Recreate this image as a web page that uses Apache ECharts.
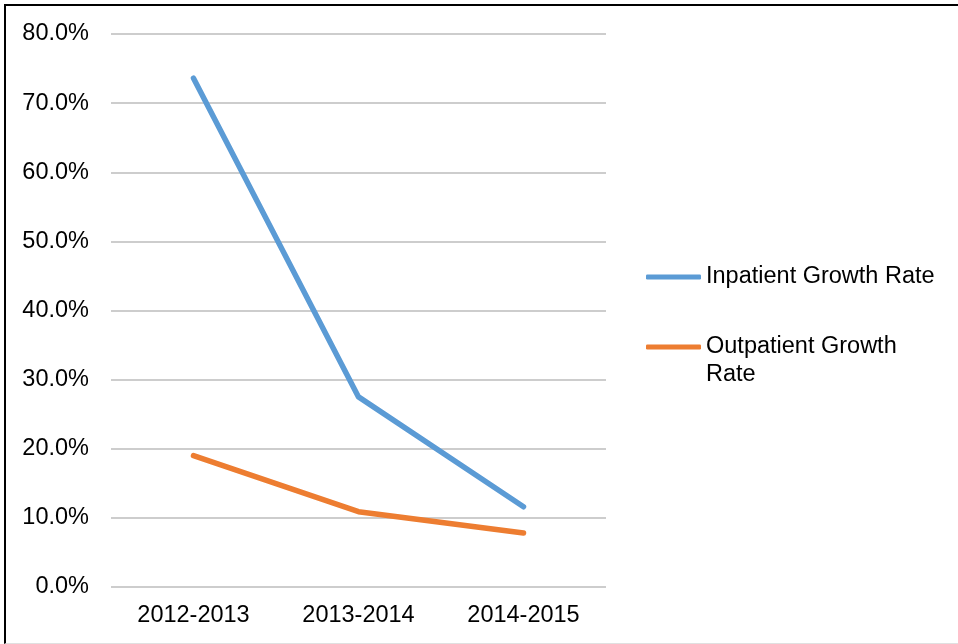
<!DOCTYPE html>
<html>
<head>
<meta charset="utf-8">
<script src="https://cdn.jsdelivr.net/npm/echarts@6/dist/echarts.min.js"></script>
<style>
  html, body { margin: 0; padding: 0; background: #fff; }
  #chart { width: 958px; height: 644px; }
  #frame {
    position: absolute; left: 4px; top: 4px; width: 954px; height: 637px;
    border-top: 2px solid #000; border-left: 2px solid #000;
    border-bottom: 1px solid #e0e0e0; pointer-events: none;
  }
</style>
</head>
<body>
<div id="chart"></div>
<div id="frame"></div>
<script>
// values
const periods = ['2012-2013', '2013-2014', '2014-2015']
const inpatientRate = [0.736, 0.275, 0.116]
const outpatientRate = [0.190, 0.109, 0.078]

const font = 'Liberation Sans, Arial, sans-serif'

var myChart = echarts.init(document.getElementById('chart'))
myChart.setOption({
  animation: false,
  grid: {
    left: 111,
    right: 352,
    top: 34,
    bottom: 57
  },
  legend: {
    orient: 'vertical',
    left: 646,
    top: 263,
    padding: 0,
    itemWidth: 55,
    itemHeight: 5,
    itemGap: 14,
    icon: 'roundRect',
    textStyle: { fontFamily: font, fontSize: 23.5, color: '#000', lineHeight: 28 },
    data: ['Inpatient Growth Rate', 'Outpatient Growth Rate'],
    // blank first line keeps the icon level with the first text line
    formatter: function (name) {
      return name === 'Outpatient Growth Rate' ? ' \nOutpatient Growth\nRate' : name
    }
  },
  xAxis: {
    type: 'category',
    data: periods,
    boundaryGap: true,
    axisLine: { show: false },
    axisTick: { show: false },
    axisLabel: { fontFamily: font, fontSize: 23.5, color: '#000', margin: 17 }
  },
  yAxis: {
    type: 'value',
    min: 0,
    max: 0.8,
    interval: 0.1,
    axisLine: { show: false },
    axisTick: { show: false },
    axisLabel: {
      fontFamily: font, fontSize: 23.5, color: '#000', margin: 22,
      formatter: function (v) { return (v * 100).toFixed(1) + '%' }
    },
    splitLine: { lineStyle: { color: '#bdbdbd', width: 1.5 } }
  },
  series: [
    {
      name: 'Inpatient Growth Rate',
      type: 'line',
      data: inpatientRate,
      showSymbol: false,
      itemStyle: { color: '#5B9BD5' },
      lineStyle: { color: '#5B9BD5', width: 5.5, cap: 'round', join: 'round' }
    },
    {
      name: 'Outpatient Growth Rate',
      type: 'line',
      data: outpatientRate,
      showSymbol: false,
      itemStyle: { color: '#ED7D31' },
      lineStyle: { color: '#ED7D31', width: 5.5, cap: 'round', join: 'round' }
    }
  ]
})
</script>
</body>
</html>
